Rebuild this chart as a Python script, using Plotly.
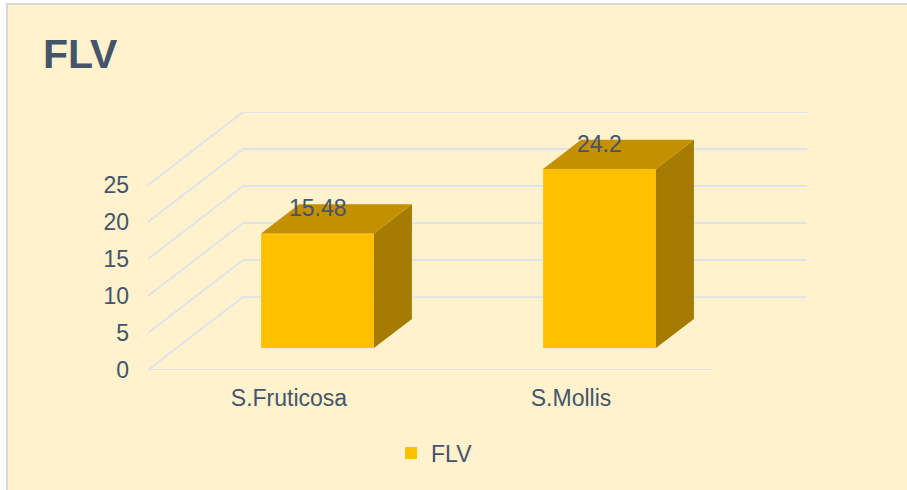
import plotly.graph_objects as go

# ---- data ----
categories = ["S.Fruticosa", "S.Mollis"]
values = [15.48, 24.2]
series_name = "FLV"
y_ticks = [0, 5, 10, 15, 20, 25]

# ---- 3D projection constants (in axis units) ----
DX = 0.337     # depth offset along category axis
DY = 9.86      # depth offset along value axis
BAR_W = 0.4
BAR_FRONT = 0.3   # fraction of depth where bar front face sits
BAR_DEPTH = 0.4   # fraction of depth occupied by bar

FRONT = "#FFC000"
TOP = "#C49000"
SIDE = "#A67C00"
GRID = "#DEE3EA"
TEXT = "#44546A"
FONT = "Liberation Sans, Arial, sans-serif"

W, H = 907, 490
L, R, T, B = 148, 99, 112, 120
plot_w = W - L - R
plot_h = H - T - B
x0, x1 = -0.5, -0.5 + plot_w / 282.0
y0, y1 = 0, max(y_ticks) + DY

fig = go.Figure()
ncat = len(categories)

# 3D grid: left wall diagonals + back wall horizontals + floor front line
grid_line = dict(color=GRID, width=1.8)
for v in y_ticks:
    fig.add_shape(type="line", xref="x", yref="y", layer="below",
                  x0=-0.5, y0=v, x1=-0.5 + DX, y1=v + DY, line=grid_line)
    fig.add_shape(type="line", xref="x", yref="y", layer="below",
                  x0=-0.5 + DX, y0=v + DY, x1=ncat - 0.5 + DX, y1=v + DY,
                  line=grid_line)
fig.add_shape(type="line", xref="x", yref="y", layer="below",
              x0=-0.5, y0=0, x1=ncat - 0.5, y1=0, line=grid_line)

bx = [i + BAR_FRONT * DX for i in range(ncat)]
base = BAR_FRONT * DY
ddx = BAR_DEPTH * DX
ddy = BAR_DEPTH * DY

# front faces
fig.add_trace(go.Bar(x=bx, y=values, base=base, width=BAR_W,
                     marker=dict(color=FRONT, line=dict(width=0)),
                     name=series_name, showlegend=True, hoverinfo="skip"))

for cx, v in zip(bx, values):
    xl, xr = cx - BAR_W / 2, cx + BAR_W / 2
    top = base + v
    # side face
    fig.add_trace(go.Scatter(x=[xr, xr + ddx, xr + ddx, xr, xr],
                             y=[base, base + ddy, top + ddy, top, base],
                             fill="toself", fillcolor=SIDE, mode="lines",
                             line=dict(width=0, color=SIDE),
                             hoverinfo="skip", showlegend=False))
    # top face
    fig.add_trace(go.Scatter(x=[xl, xr, xr + ddx, xl + ddx, xl],
                             y=[top, top, top + ddy, top + ddy, top],
                             fill="toself", fillcolor=TOP, mode="lines",
                             line=dict(width=0, color=TOP),
                             hoverinfo="skip", showlegend=False))
    fig.add_annotation(x=cx, y=top + ddy, text=f"{v:g}", showarrow=False,
                       yanchor="middle", yshift=-4,
                       font=dict(family=FONT, size=23, color=TEXT))

# chart area background with left/top border
def px_to_paper_x(px):
    return (px - L) / plot_w

def px_to_paper_y(py):
    return (H - B - py) / plot_h

fig.add_shape(type="rect", xref="paper", yref="paper",
              x0=px_to_paper_x(7), x1=px_to_paper_x(W + 10),
              y0=px_to_paper_y(H + 10), y1=px_to_paper_y(4),
              fillcolor="#FFF2CC", line=dict(color="#D9D9D9", width=2),
              layer="below")

fig.update_layout(
    width=W, height=H, autosize=False,
    margin=dict(l=L, r=R, t=T, b=B),
    paper_bgcolor="white", plot_bgcolor="rgba(0,0,0,0)",
    title=dict(text="<b>FLV</b>", x=43 / W, xanchor="left",
               y=1 - 54 / H, yanchor="middle",
               font=dict(family=FONT, size=41, color=TEXT)),
    xaxis=dict(range=[x0, x1], tickvals=list(range(ncat)), ticktext=categories,
               showgrid=False, zeroline=False, showline=False, ticks="",
               ticklabelstandoff=12,
               tickfont=dict(family=FONT, size=23, color=TEXT),
               fixedrange=True),
    yaxis=dict(range=[y0, y1], tickvals=y_ticks, showgrid=False,
               zeroline=False, showline=False, ticks="",
               ticklabelstandoff=18,
               tickfont=dict(family=FONT, size=23, color=TEXT),
               fixedrange=True),
    legend=dict(orientation="h", x=px_to_paper_x(391), xanchor="left",
                y=px_to_paper_y(453), yanchor="middle",
                bgcolor="rgba(0,0,0,0)",
                font=dict(family=FONT, size=23, color=TEXT)),
    showlegend=True,
)

fig.write_html("out.html", config={"displayModeBar": False},
               post_script="document.body.style.margin='0';"
                           "document.body.style.overflow='hidden';")
